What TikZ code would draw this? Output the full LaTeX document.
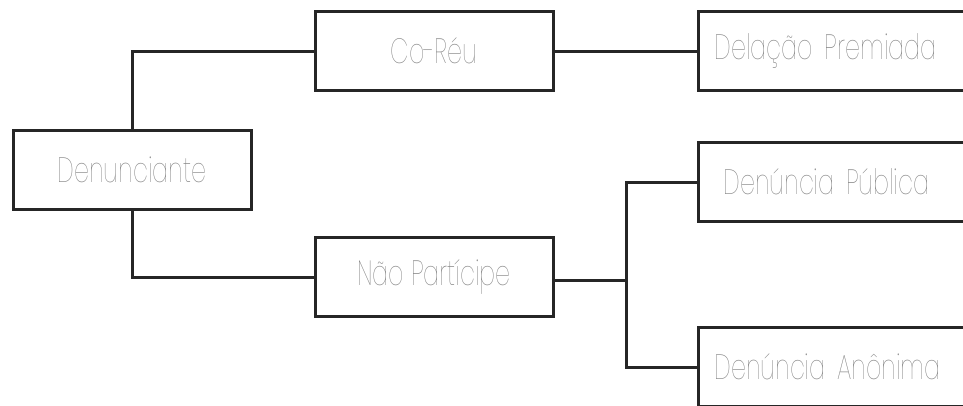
\documentclass[tikz,border=0pt]{standalone}
\usepackage{fontspec}
\setmainfont{Poppins}[UprightFont={* Thin}, FakeStretch=0.68]
\begin{document}
\begin{tikzpicture}[x=1pt, y=-1pt,
  box/.style={draw=black!85, line width=3pt, fill=white, minimum width=238pt,
    minimum height=79pt, inner sep=0pt, text=black!50,
    font=\fontsize{35}{35}\selectfont},
  leaf/.style={box, minimum width=290pt, text width=258pt, align=left,
    anchor=west},
  link/.style={draw=black!85, line width=3pt}]
\useasboundingbox (0,0) rectangle (963,405);
% root and first level
\node[box] (den) at (132,170) {Denunciante};
\node[box] (co)  at (434,51)  {Co-Réu};
\node[box] (nao) at (434,277) {Não Partícipe};
% leaves, running past the right edge
\node[leaf] (del) at (697,51)  {Delação Premiada};
\node[leaf] (pub) at (697,182) {\hspace*{9pt}Denúncia Pública};
\node[leaf] (ano) at (697,367) {Denúncia Anônima};
% connectors
\draw[link] (den.north) |- (co.west);
\draw[link] (den.south) |- (nao.west);
\draw[link] (co.east) -- (del.west);
\coordinate (fork) at (626,280);
\draw[link] (nao.east |- fork) -- (fork);
\draw[link] (fork) |- (pub.west);
\draw[link] (fork) |- (ano.west);
\end{tikzpicture}
\end{document}
